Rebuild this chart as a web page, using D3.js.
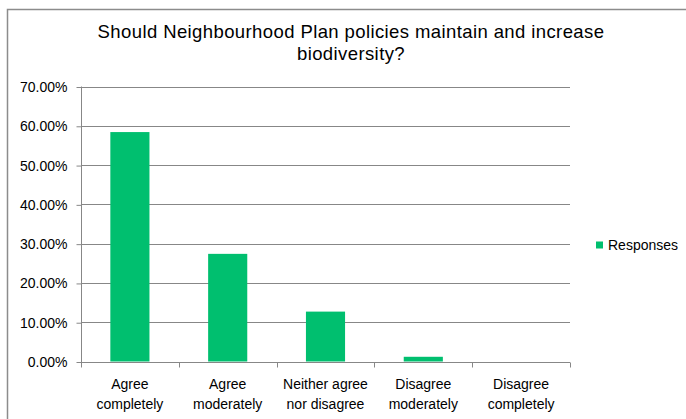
<!DOCTYPE html>
<html>
<head>
<meta charset="utf-8">
<script src="https://cdn.jsdelivr.net/npm/d3@7"></script>
<style>
  html, body { margin: 0; padding: 0; background: #fff; }
  svg { display: block; }
</style>
</head>
<body>
<svg id="chart" width="686" height="419"></svg>
<script>
const categories = [
  ["Agree", "completely"],
  ["Agree", "moderately"],
  ["Neither agree", "nor disagree"],
  ["Disagree", "moderately"],
  ["Disagree", "completely"]
];
const values = [0.584, 0.274, 0.127, 0.012, 0.0];
const yTicks = [0, 0.1, 0.2, 0.3, 0.4, 0.5, 0.6, 0.7];
const titleLines = ["Should Neighbourhood Plan policies maintain and increase", "biodiversity?"];
const seriesName = "Responses";

const svg = d3.select("#chart");
const W = 686, H = 419;
const m = { left: 81, right: 570, top: 86.5, bottom: 361.5 };
const font = "'Liberation Sans', Arial, sans-serif";
const green = "#00BF6F";
const gridC = "#878787";

// frame
svg.append("path")
  .attr("d", `M7.5,${H} L7.5,9.5 L${W},9.5`)
  .attr("fill", "none").attr("stroke", "#8c8c8c").attr("stroke-width", 1.5);

// title
svg.append("text")
  .attr("text-anchor", "middle")
  .attr("font-family", font).attr("font-size", 18.5).attr("letter-spacing", 0.4).attr("fill", "#000")
  .selectAll("tspan").data(titleLines).join("tspan")
  .attr("x", 351).attr("y", (d, i) => 38 + i * 22).text(d => d);

const x = d3.scaleBand().domain(d3.range(categories.length)).range([m.left, m.right]).paddingInner(0.6).paddingOuter(0.3);
const xOuter = d3.scaleBand().domain(d3.range(categories.length)).range([m.left, m.right]);
const y = d3.scaleLinear().domain([0, 0.7]).range([m.bottom, m.top]);

// gridlines
svg.append("g").selectAll("line").data(yTicks.filter(t => t > 0)).join("line")
  .attr("x1", m.left).attr("x2", m.right)
  .attr("y1", d => Math.round(y(d)) + 0.5).attr("y2", d => Math.round(y(d)) + 0.5)
  .attr("stroke", gridC).attr("stroke-width", 1);

// bars
svg.append("g").selectAll("rect").data(values).join("rect")
  .attr("x", (d, i) => x(i))
  .attr("width", x.bandwidth())
  .attr("y", d => y(d))
  .attr("height", d => y(0) - y(d))
  .attr("fill", green);

// y axis
const yAxis = d3.axisLeft(y).tickValues(yTicks).tickFormat(d3.format(".2%")).tickSize(5).tickPadding(9);
const gy = svg.append("g").attr("transform", `translate(${m.left + 0.5},0.5)`).call(yAxis);
gy.select(".domain").attr("stroke", gridC).attr("d", `M0,${m.top - 0.5} V${m.bottom}`);
gy.selectAll(".tick line").attr("stroke", gridC);
gy.selectAll(".tick text").attr("font-family", font).attr("font-size", 14).attr("fill", "#000");

// x axis
const gx = svg.append("g").attr("transform", `translate(0,${Math.round(m.bottom) + 0.5})`);
gx.append("line").attr("x1", m.left).attr("x2", m.right).attr("stroke", gridC);
gx.selectAll("line.tk").data(d3.range(categories.length + 1)).join("line").attr("class", "tk")
  .attr("x1", i => Math.round(i < categories.length ? xOuter(i) : m.right) + 0.5)
  .attr("x2", i => Math.round(i < categories.length ? xOuter(i) : m.right) + 0.5)
  .attr("y1", 0).attr("y2", 5).attr("stroke", gridC);
gx.selectAll("text").data(categories).join("text")
  .attr("text-anchor", "middle")
  .attr("font-family", font).attr("font-size", 14).attr("fill", "#000")
  .each(function(d, i) {
    d3.select(this).selectAll("tspan").data(d).join("tspan")
      .attr("x", xOuter(i) + xOuter.bandwidth() / 2)
      .attr("y", (t, j) => 26 + j * 20)
      .text(t => t);
  });

// legend
const lg = svg.append("g").attr("transform", "translate(596,241.5)");
lg.append("rect").attr("width", 7).attr("height", 7).attr("fill", green);
lg.append("text").attr("x", 12).attr("y", 8)
  .attr("font-family", font).attr("font-size", 14).attr("fill", "#000").text(seriesName);
</script>
</body>
</html>
